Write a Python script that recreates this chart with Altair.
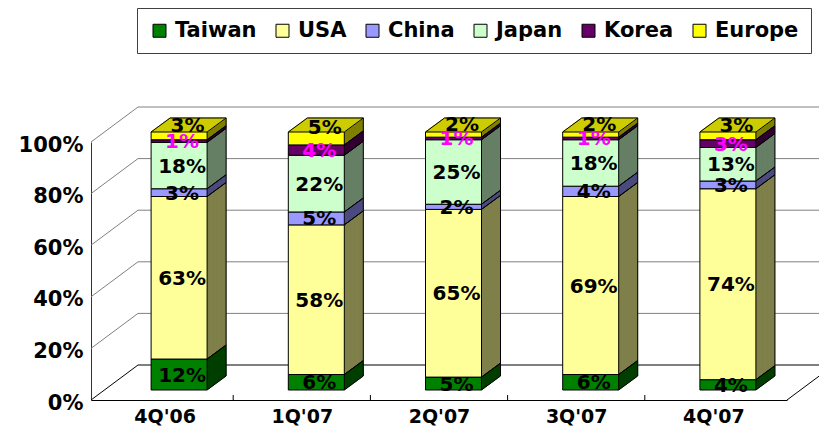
import json
import altair as alt
import pandas as pd

# ---------------- data ----------------
quarters = ["4Q'06", "1Q'07", "2Q'07", "3Q'07", "4Q'07"]
regions = ["Taiwan", "USA", "China", "Japan", "Korea", "Europe"]
taiwan = [12, 6, 5, 6, 4]
usa = [63, 58, 65, 69, 74]
china = [3, 5, 2, 4, 3]
japan = [18, 22, 25, 18, 13]
korea = [1, 4, 1, 1, 3]
europe = [3, 5, 2, 2, 3]
y_ticks = [0, 20, 40, 60, 80, 100]

# ---------------- style ----------------
front_colors = ["#008000", "#FFFF99", "#9999FF", "#CCFFCC", "#660066", "#FFFF00"]
side_colors = ["#004000", "#80804C", "#4C4C80", "#668066", "#330033", "#808000"]
top_color = "#CCCC00"
FONT = "DejaVu Sans"

W, H = 696, 258
BAR_W = 56
FX, FY = 14.5, -10      # front face offset from the front plane
DX, DY = 19, -14        # bar depth
WX, WY = 47, -35        # wall depth
N = 24                  # sweep steps for the 3-D faces

series = [taiwan, usa, china, japan, korea, europe]
rows = []
for qi, q in enumerate(quarters):
    for ri, r in enumerate(regions):
        rows.append({"quarter": q, "idx": qi, "region": r, "order": ri,
                     "value": series[ri][qi]})
df = pd.DataFrame(rows)
grid_df = pd.DataFrame({"v": y_ticks})
q_df = pd.DataFrame({"idx": list(range(len(quarters)))})

x_scale = alt.Scale(domain=[-0.5, len(quarters) - 0.5], nice=False, zero=False)
y_scale = alt.Scale(domain=[0, 100], nice=False, zero=True)
x_axis = alt.Axis(values=list(range(len(quarters))),
                  labelExpr=f"{json.dumps(quarters)}[datum.value]",
                  title=None, ticks=False, tickSize=0, grid=False, domain=True,
                  domainColor="black", domainWidth=1.2, labelFont=FONT,
                  labelFontWeight="bold", labelFontSize=19, labelColor="black",
                  labelPadding=7, labelFlush=False, labelOverlap=False, labelAngle=0)
y_axis = alt.Axis(values=y_ticks, labelExpr="datum.value + '%'", title=None,
                  ticks=False, tickSize=0, grid=False, domain=True,
                  domainColor="#333333", domainWidth=1, labelFont=FONT,
                  labelFontWeight="bold", labelFontSize=21, labelColor="black",
                  labelPadding=8, labelOffset=3, labelFlush=False, labelOverlap=False)


def X(field):
    return alt.X(field, type="quantitative", scale=x_scale, axis=x_axis)


def Y(field):
    return alt.Y(field, type="quantitative", scale=y_scale, axis=y_axis)


base = alt.Chart(df).transform_stack(
    stack="value", groupby=["quarter"], as_=["y0", "y1"],
    sort=[alt.SortField("order", order="ascending")]
).transform_calculate(
    mid="(datum.y0 + datum.y1) / 2",
    lbl="datum.value + '%'",
    side_col=f"{json.dumps(side_colors)}[datum.order]",
)

layers = []

# ----- walls -----
grid_color = alt.condition("datum.v == 0", alt.value("black"), alt.value("#808080"))
layers.append(alt.Chart(grid_df).mark_rule(yOffset=WY, strokeWidth=1).encode(
    x=alt.value(WX), x2=alt.value(W + 80), y=Y("v"), color=grid_color))
layers.append(alt.Chart(grid_df).mark_rule(y2Offset=WY, strokeWidth=1).encode(
    x=alt.value(0), x2=alt.value(WX), y=Y("v"), y2=alt.Y2("v"), color=grid_color))
layers.append(alt.Chart(grid_df).transform_filter("datum.v == 0").mark_rule(
    y2Offset=WY, strokeWidth=1, color="black").encode(
    x=alt.value(W), x2=alt.value(W + WX), y=Y("v"), y2=alt.Y2("v")))
# x-axis ticks between categories
layers.append(alt.Chart(q_df).transform_filter(f"datum.idx < {len(quarters) - 1}")
              .transform_calculate(b="datum.idx + 0.5")
              .mark_rule(color="black", strokeWidth=1).encode(
    x=X("b"), y=alt.value(H), y2=alt.value(H - 5)))

# ----- side faces (sweep back to front) -----
for k in range(N, 0, -1):
    t = k / N
    layers.append(base.mark_bar(width=BAR_W, xOffset=FX + DX * t,
                                yOffset=FY + DY * t, y2Offset=FY + DY * t,
                                strokeWidth=0.6).encode(
        x=X("idx"), y=Y("y1"), y2=alt.Y2("y0"),
        fill=alt.Fill("side_col:N", scale=None),
        stroke=alt.Stroke("side_col:N", scale=None)))

# ----- top face of the stack -----
for k in range(N, 0, -1):
    t = k / N
    layers.append(base.transform_filter("datum.region == 'Europe'").mark_rule(
        xOffset=FX - BAR_W / 2 + DX * t, x2Offset=FX + BAR_W / 2 + DX * t,
        yOffset=FY + DY * t, strokeWidth=1.6, color=top_color).encode(
        x=X("idx"), x2=alt.X2("idx"), y=Y("y1")))

# ----- front faces -----
legend = alt.Legend(orient="none", legendX=46, legendY=-134, direction="horizontal",
                    columns=6, title=None, padding=12, strokeColor="#404040",
                    fillColor="white", symbolType="square", symbolSize=169,
                    symbolStrokeColor="black", symbolStrokeWidth=1,
                    labelFont=FONT, labelFontWeight="bold", labelFontSize=21,
                    labelColor="black", labelOffset=5, columnPadding=15,
                    labelLimit=0)
layers.append(base.mark_bar(width=BAR_W, xOffset=FX, yOffset=FY, y2Offset=FY,
                            stroke="black", strokeWidth=1).encode(
    x=X("idx"), y=Y("y1"), y2=alt.Y2("y0"),
    color=alt.Color("region:N", scale=alt.Scale(domain=regions, range=front_colors),
                    sort=regions, legend=legend)))

# ----- outlines of the 3-D boxes -----
RX = FX + BAR_W / 2
LX = FX - BAR_W / 2
for fld in ["y0", "y1"]:
    layers.append(base.mark_rule(color="black", strokeWidth=1, xOffset=RX,
                                 x2Offset=RX + DX, yOffset=FY, y2Offset=FY + DY).encode(
        x=X("idx"), x2=alt.X2("idx"), y=Y(fld), y2=alt.Y2(fld)))
layers.append(base.mark_rule(color="black", strokeWidth=1, xOffset=RX + DX,
                             yOffset=FY + DY, y2Offset=FY + DY).encode(
    x=X("idx"), y=Y("y0"), y2=alt.Y2("y1")))
top = base.transform_filter("datum.region == 'Europe'")
layers.append(top.mark_rule(color="black", strokeWidth=1, xOffset=LX,
                            x2Offset=LX + DX, yOffset=FY, y2Offset=FY + DY).encode(
    x=X("idx"), x2=alt.X2("idx"), y=Y("y1"), y2=alt.Y2("y1")))
layers.append(top.mark_rule(color="black", strokeWidth=1, xOffset=LX + DX,
                            x2Offset=RX + DX, yOffset=FY + DY).encode(
    x=X("idx"), x2=alt.X2("idx"), y=Y("y1")))

# ----- data labels -----
lab_color = alt.condition("datum.region == 'Korea'", alt.value("#FF00FF"),
                          alt.value("black"))
layers.append(base.transform_filter("datum.region != 'Europe'").mark_text(
    font=FONT, fontWeight="bold", fontSize=20, xOffset=FX + 3, yOffset=FY + 1,
    baseline="middle", align="center").encode(
    x=X("idx"), y=Y("mid"), text="lbl:N", color=lab_color))
layers.append(base.transform_filter("datum.region == 'Europe'").mark_text(
    font=FONT, fontWeight="bold", fontSize=20, xOffset=FX + 8.5, yOffset=FY - 10,
    baseline="middle", align="center").encode(
    x=X("idx"), y=Y("mid"), text="lbl:N", color=alt.value("black")))

chart = alt.layer(*layers).properties(
    width=W, height=H,
    padding={"left": 83, "top": 134, "right": 32, "bottom": 26},
    autosize=alt.AutoSizeParams(type="none"),
    background="white",
).configure_view(stroke=None)

chart.save("out.html", embed_options={"renderer": "svg", "actions": False})
